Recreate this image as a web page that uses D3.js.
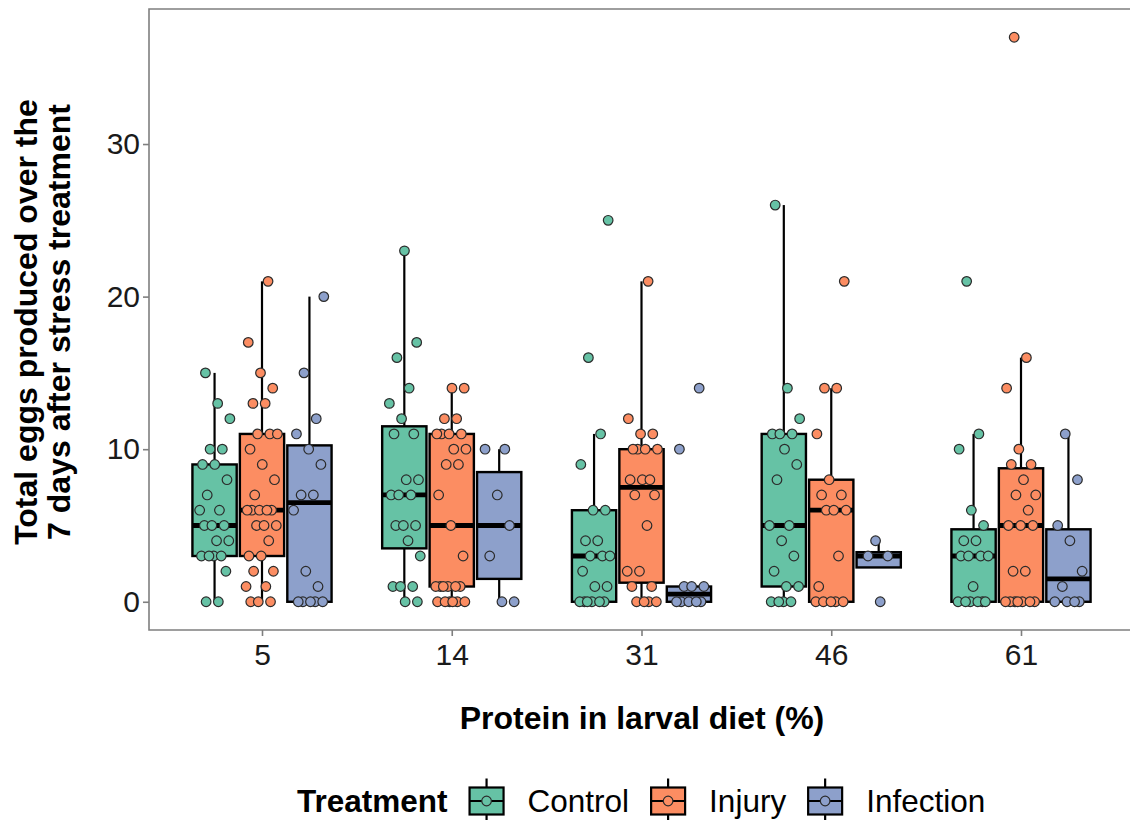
<!DOCTYPE html>
<html>
<head>
<meta charset="utf-8">
<script src="https://cdn.jsdelivr.net/npm/d3@7"></script>
<style>
  html, body { margin: 0; padding: 0; background: #ffffff; }
  svg { display: block; font-family: "Liberation Sans", Arial, sans-serif; }
</style>
</head>
<body>
<svg id="chart" width="1130" height="820"></svg>
<script>
// ---------------- data ----------------
const diets = ["5", "14", "31", "46", "61"];
const treatments = ["Control", "Injury", "Infection"];
const colors = ["#66C2A5", "#FC8D62", "#8DA0CB"];
const yTicks = [0, 10, 20, 30];

// eggs per female, one array per diet level (5, 14, 31, 46, 61)
const control = [
  [0,0,2,3,3,3,3,4,4,5,5,5,6,6,7,8,9,9,10,10,12,13,15],
  [0,0,1,1,1,3,4,5,5,5,7,7,7,8,8,11,11,12,13,14,16,17,23],
  [0,0,0,0,0,0,1,1,2,3,3,3,4,4,6,6,9,11,16,25],
  [0,0,0,0,1,1,2,3,4,5,5,8,9,10,11,11,11,12,14,26],
  [0,0,0,0,0,0,1,3,3,3,3,4,4,5,6,10,11,21]
];
const injury = [
  [0,0,0,1,1,2,2,3,3,4,5,5,5,6,6,6,6,6,7,8,9,10,11,11,11,13,13,14,15,17,21],
  [0,0,0,0,0,0,1,1,1,1,1,1,3,5,7,9,9,10,10,11,11,11,11,12,12,14,14],
  [0,0,0,0,1,1,2,2,5,7,7,8,8,8,10,10,10,10,11,11,12,21],
  [0,0,0,0,0,1,3,6,6,6,7,7,8,11,14,14,21],
  [0,0,0,0,0,0,0,2,2,5,5,5,6,7,7,8,9,9,10,14,16,37]
];
const infection = [
  [0,0,0,0,0,1,2,6,7,7,9,10,11,12,15,20],
  [0,0,3,5,7,10,10],
  [0,0,0,0,0,1,1,1,10,14],
  [0,3,3,4],
  [0,0,0,0,1,2,4,5,8,11]
];
const series = [control, injury, infection];

// ---------------- layout ----------------
const svg = d3.select("#chart");
const panel = { left: 149, right: 1136, top: 9, bottom: 630 };

const x = d3.scalePoint().domain(diets).range([262, 1021]);
const step = (1021 - 262) / (diets.length - 1);
const dodge = d3.scaleBand().domain(treatments).range([-0.375 * step, 0.375 * step]);
const boxW = 0.7 / 3 * step;
const y = d3.scaleLinear().domain([-1.85, 38.85]).range([panel.bottom, panel.top]);

const axisGrey = "#7f7f7f";

// ---------------- boxes ----------------
const gBoxes = svg.append("g");
const boxData = [];
series.forEach((ser, ti) => {
  ser.forEach((vals, di) => {
    const s = vals.slice().sort(d3.ascending);
    const q1 = d3.quantile(s, 0.25), med = d3.quantile(s, 0.5), q3 = d3.quantile(s, 0.75);
    const iqr = q3 - q1;
    const lo = d3.min(s.filter(v => v >= q1 - 1.5 * iqr));
    const hi = d3.max(s.filter(v => v <= q3 + 1.5 * iqr));
    const cx = x(diets[di]) + dodge(treatments[ti]) + dodge.bandwidth() / 2;
    boxData.push({ ti, di, q1, med, q3, lo, hi, cx, vals });
  });
});

boxData.forEach(b => {
  const g = gBoxes.append("g");
  g.append("line").attr("x1", b.cx).attr("x2", b.cx).attr("y1", y(b.q3)).attr("y2", y(b.hi))
    .attr("stroke", "#000").attr("stroke-width", 2.2);
  g.append("line").attr("x1", b.cx).attr("x2", b.cx).attr("y1", y(b.q1)).attr("y2", y(b.lo))
    .attr("stroke", "#000").attr("stroke-width", 2.2);
  g.append("rect").attr("x", b.cx - boxW / 2).attr("width", boxW)
    .attr("y", y(b.q3)).attr("height", Math.max(0, y(b.q1) - y(b.q3)))
    .attr("fill", colors[b.ti]).attr("stroke", "#000").attr("stroke-width", 2.4);
  g.append("line").attr("x1", b.cx - boxW / 2).attr("x2", b.cx + boxW / 2)
    .attr("y1", y(b.med)).attr("y2", y(b.med))
    .attr("stroke", "#000").attr("stroke-width", 4.8);
});

// ---------------- points (deterministic jitter) ----------------
const gPts = svg.append("g");
const jitterHalf = 16;
boxData.forEach(b => {
  b.vals.forEach((v, i) => {
    const f = ((i + 1) * 0.6180339887 + b.di * 0.29 + b.ti * 0.53) % 1;
    const off = (f - 0.5) * 2 * jitterHalf;
    gPts.append("circle")
      .attr("cx", b.cx + off).attr("cy", y(v)).attr("r", 4.8)
      .attr("fill", colors[b.ti]).attr("stroke", "#2b2b2b").attr("stroke-width", 1.2);
  });
});

// ---------------- panel border & axes ----------------
svg.append("path")
  .attr("d", `M${panel.right},${panel.top}H${panel.left}V${panel.bottom}H${panel.right}`)
  .attr("fill", "none").attr("stroke", axisGrey).attr("stroke-width", 1.6);

const yAxis = svg.append("g").attr("transform", `translate(${panel.left},0)`)
  .call(d3.axisLeft(y).tickValues(yTicks).tickSize(6).tickPadding(3));
const xAxis = svg.append("g").attr("transform", `translate(0,${panel.bottom})`)
  .call(d3.axisBottom(x).tickSize(6).tickPadding(8));
[yAxis, xAxis].forEach(a => {
  a.select(".domain").remove();
  a.selectAll(".tick line").attr("stroke", axisGrey).attr("stroke-width", 1.6);
  a.selectAll(".tick text").attr("fill", "#1a1a1a")
    .style("font-size", "30px").style("font-family", "Liberation Sans, Arial, sans-serif");
});

// ---------------- titles ----------------
svg.append("text").attr("x", 642).attr("y", 729).attr("text-anchor", "middle")
  .style("font-size", "32px").style("font-weight", "bold").attr("fill", "#000")
  .text("Protein in larval diet (%)");

const yTitle = ["Total eggs produced over the", "7 days after stress treatment"];
yTitle.forEach((t, i) => {
  svg.append("text").attr("transform", `translate(${37 + i * 33},${322}) rotate(-90)`)
    .attr("text-anchor", "middle")
    .style("font-size", "32px").style("font-weight", "bold").attr("fill", "#000")
    .text(t);
});

// ---------------- legend ----------------
const legY = 801;
const legFont = "31.5px";
const lt = svg.append("text").attr("x", 297).attr("y", legY + 11)
  .style("font-size", legFont).style("font-weight", "bold").attr("fill", "#000")
  .text("Treatment");
let cursor = 297 + lt.node().getComputedTextLength() + 22;
const keyW = 34, keyH = 27;
treatments.forEach((t, i) => {
  const k = svg.append("g").attr("transform", `translate(${cursor},${legY})`);
  k.append("line").attr("x1", keyW / 2).attr("x2", keyW / 2).attr("y1", -keyH / 2 - 9).attr("y2", keyH / 2 + 9)
    .attr("stroke", "#000").attr("stroke-width", 2.2);
  k.append("rect").attr("x", 0).attr("y", -keyH / 2).attr("width", keyW).attr("height", keyH)
    .attr("fill", colors[i]).attr("stroke", "#000").attr("stroke-width", 2.2);
  k.append("line").attr("x1", 0).attr("x2", keyW).attr("y1", 0).attr("y2", 0)
    .attr("stroke", "#000").attr("stroke-width", 2.2);
  k.append("circle").attr("cx", keyW / 2).attr("cy", 0).attr("r", 4.8)
    .attr("fill", colors[i]).attr("stroke", "#2b2b2b").attr("stroke-width", 1.2);
  const txt = svg.append("text").attr("x", cursor + keyW + 24).attr("y", legY + 11)
    .style("font-size", legFont).attr("fill", "#000").text(t);
  cursor = cursor + keyW + 24 + txt.node().getComputedTextLength() + 22;
});
</script>
</body>
</html>
